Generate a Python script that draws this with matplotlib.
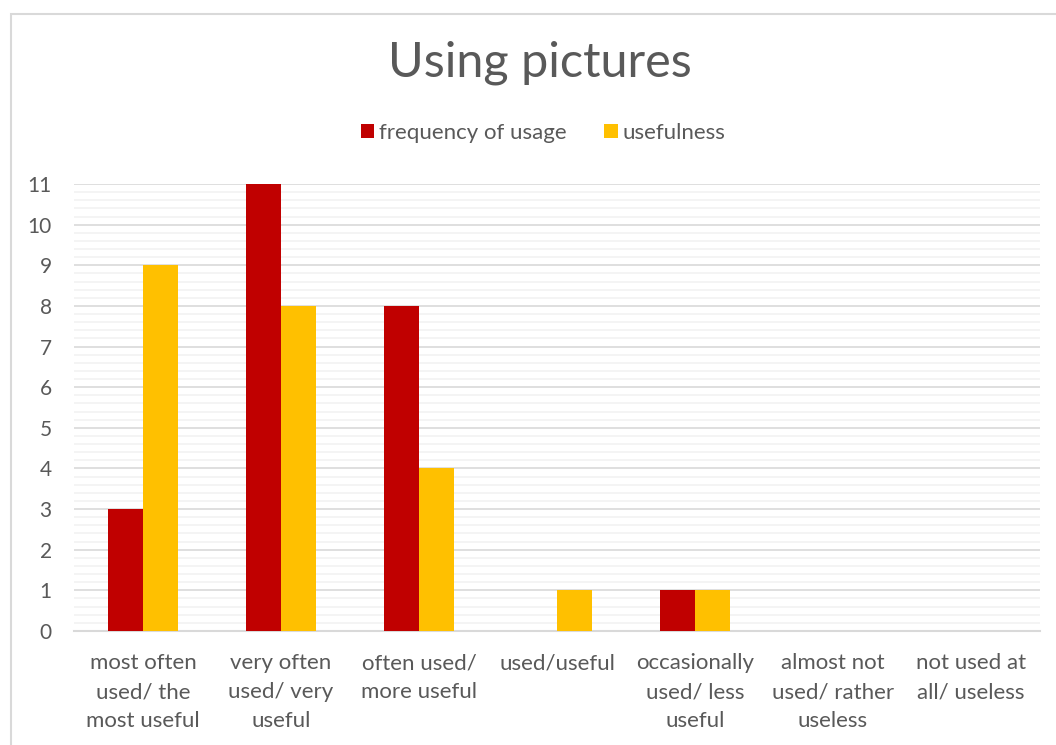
import matplotlib.pyplot as plt
import matplotlib.patches as patches
import numpy as np

categories = ["most often\nused/ the\nmost useful", "very often\nused/ very\nuseful",
              "often used/\nmore useful", "used/useful",
              "occasionally\nused/ less\nuseful", "almost not\nused/ rather\nuseless",
              "not used at\nall/ useless"]
frequency = [3, 11, 8, 0, 1, 0, 0]
usefulness = [9, 8, 4, 1, 1, 0, 0]

plt.rcParams['font.family'] = ['Lato', 'DejaVu Sans']
text_color = '#595959'

fig = plt.figure(figsize=(10.56, 7.45), dpi=100)
# chart frame
fig.patches.append(patches.Rectangle((11 / 1056, -0.1), 1.1, 1 - 14 / 745 + 0.1,
                                     transform=fig.transFigure, fill=False,
                                     edgecolor='#d9d9d9', linewidth=1.5))

ax = fig.add_axes([74 / 1056, 1 - 631 / 745, 966 / 1056, 447 / 745])

x = np.arange(len(categories))
w = 0.255
ax.bar(x - w / 2, frequency, w, color='#C00000', label='frequency of usage', zorder=3)
ax.bar(x + w / 2, usefulness, w, color='#FFC000', label='usefulness', zorder=3)

ax.set_xlim(-0.5, len(categories) - 0.5)
ax.set_ylim(0, 11)
ax.set_yticks(range(0, 12))
ax.set_yticks(np.arange(0, 11.01, 0.2), minor=True)
ax.grid(which='major', axis='y', color='#d9d9d9', linewidth=1.2, zorder=1)
ax.grid(which='minor', axis='y', color='#f2f2f2', linewidth=1.2, zorder=0)
ax.tick_params(axis='y', which='both', length=0, pad=16, labelsize=15, labelcolor=text_color)
ax.set_xticks(x)
ax.set_xticklabels(categories, fontsize=16, color=text_color, linespacing=1.55)
ax.tick_params(axis='x', length=0, pad=16)
for s in ['left', 'right', 'top']:
    ax.spines[s].set_visible(False)
ax.spines['bottom'].set_color('#d9d9d9')
ax.spines['bottom'].set_linewidth(1.5)

fig.text(540 / 1056, 1 - 63 / 745, 'Using pictures', ha='center', va='center',
         fontsize=35, color=text_color)
fig.legend(loc='center', bbox_to_anchor=(543 / 1056, 1 - 133 / 745), ncol=2,
           frameon=False, fontsize=16, labelcolor=text_color, handlelength=0.6,
           handleheight=0.6, handletextpad=0.2, columnspacing=1.7)

plt.savefig('out.png', dpi=100)
